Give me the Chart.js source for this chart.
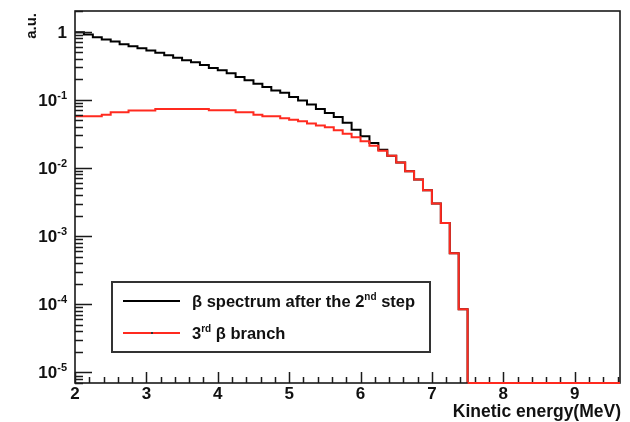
<!DOCTYPE html>
<html>
<head>
<meta charset="utf-8">
<script src="https://cdn.jsdelivr.net/npm/chart.js@4.4.1/dist/chart.umd.min.js"></script>
<style>
  html, body { margin: 0; padding: 0; background: #fff; }
  canvas { display: block; }
</style>
</head>
<body>
<canvas id="spectrum" width="630" height="422"></canvas>
<script>
// histogram binning (MeV)
const E_START = 2.0;
const BIN_WIDTH = 0.125;
const E_END = 7.5;

// beta spectrum after the 2nd step, per bin (a.u.)
const betaAfterStep2 = [
  0.976, 0.904, 0.825, 0.763, 0.713, 0.651, 0.608, 0.569, 0.526, 0.487,
  0.449, 0.411, 0.379, 0.354, 0.324, 0.293, 0.270, 0.245, 0.215, 0.193,
  0.172, 0.154, 0.137, 0.126, 0.110, 0.097, 0.0848, 0.0733, 0.0640, 0.0559,
  0.0461, 0.0364, 0.0290, 0.0232, 0.0185, 0.0151, 0.0120, 0.00889, 0.00678, 0.00471,
  0.00301, 0.00155, 0.000562, 0.0000847,
];

// 3rd beta branch, per bin (a.u.)
const thirdBranch = [
  0.0571, 0.0571, 0.0571, 0.0604, 0.0653, 0.0653, 0.0692, 0.0692, 0.0692, 0.0733,
  0.0733, 0.0733, 0.0733, 0.0733, 0.0733, 0.0699, 0.0699, 0.0699, 0.0653, 0.0653,
  0.0604, 0.0571, 0.0571, 0.0533, 0.0510, 0.0482, 0.0446, 0.0417, 0.0393, 0.0358,
  0.0318, 0.0282, 0.0245, 0.0212, 0.0179, 0.0151, 0.0120, 0.00889, 0.00678, 0.00471,
  0.00301, 0.00155, 0.000562, 0.0000847,
];

const xTickValues = [2, 3, 4, 5, 6, 7, 8, 9];
const yTickExponents = [0, -1, -2, -3, -4, -5];

const X_MIN = 2, X_MAX = 9.635;
const Y_MIN = 7e-6, Y_MAX = 2.0;

const FONT = '"Liberation Sans", Arial, Helvetica, sans-serif';

// step points: one per bin low edge, then drop to the floor at the end
function histPoints(values) {
  const pts = values.map((v, i) => ({ x: E_START + i * BIN_WIDTH, y: v }));
  pts.push({ x: E_END, y: Y_MIN });
  pts.push({ x: X_MAX, y: Y_MIN });
  return pts;
}

// text with optional superscript pieces
function drawRich(ctx, parts, x, y, size, align) {
  const supSize = Math.round(size * 0.62);
  const widths = parts.map((p) => {
    ctx.font = `700 ${p.sup ? supSize : size}px ${FONT}`;
    return ctx.measureText(p.t).width;
  });
  const total = widths.reduce((a, b) => a + b, 0);
  let cx = align === 'right' ? x - total : x;
  ctx.textAlign = 'left';
  ctx.textBaseline = 'alphabetic';
  parts.forEach((p, i) => {
    ctx.font = `700 ${p.sup ? supSize : size}px ${FONT}`;
    ctx.fillText(p.t, cx, p.sup ? y - size * 0.42 : y);
    cx += widths[i];
  });
}

const rootFrame = {
  id: 'rootFrame',
  afterDatasetsDraw(chart) {
    const { ctx, chartArea: a, scales: { x, y } } = chart;
    ctx.save();
    ctx.strokeStyle = '#1a1a1a';
    ctx.lineWidth = 1.5;

    // x ticks, pointing into the pad
    ctx.beginPath();
    for (let k = 0; k * 0.2 + X_MIN <= X_MAX; k++) {
      const v = X_MIN + k * 0.2;
      const px = Math.round(x.getPixelForValue(v)) + 0.5;
      const len = k % 5 === 0 ? 11 : 6;
      ctx.moveTo(px, a.bottom);
      ctx.lineTo(px, a.bottom - len);
    }
    // y ticks: decades long, 2..9 short
    for (let e = -6; e <= 0; e++) {
      for (let m = 1; m <= 9; m++) {
        const v = m * Math.pow(10, e);
        if (v < Y_MIN || v > Y_MAX) continue;
        const py = Math.round(y.getPixelForValue(v)) + 0.5;
        ctx.moveTo(a.left, py);
        ctx.lineTo(a.left + (m === 1 ? 17 : 8), py);
      }
    }
    ctx.stroke();

    // frame
    ctx.lineWidth = 1.6;
    ctx.strokeRect(a.left, a.top, a.right - a.left, a.bottom - a.top);

    // redraw the zero-level red line over the axis
    ctx.strokeStyle = '#ff2a1f';
    ctx.lineWidth = 2;
    ctx.beginPath();
    ctx.moveTo(x.getPixelForValue(E_END), a.bottom);
    ctx.lineTo(a.right, a.bottom);
    ctx.stroke();

    ctx.fillStyle = '#111';
    // x tick labels
    ctx.font = `700 17px ${FONT}`;
    ctx.textAlign = 'center';
    ctx.textBaseline = 'top';
    xTickValues.forEach((v) => {
      ctx.fillText(String(v), x.getPixelForValue(v), a.bottom + 3);
    });
    // x title
    ctx.font = `700 17.5px ${FONT}`;
    ctx.textAlign = 'right';
    ctx.fillText('Kinetic energy(MeV)', a.right + 1, a.bottom + 20);

    // y tick labels
    yTickExponents.forEach((e) => {
      const py = y.getPixelForValue(Math.pow(10, e)) + 6;
      if (e === 0) drawRich(ctx, [{ t: '1' }], 67, py, 17, 'right');
      else drawRich(ctx, [{ t: '10' }, { t: String(e), sup: true }], 67, py, 17, 'right');
    });

    // y title
    ctx.save();
    ctx.translate(36, 13);
    ctx.rotate(-Math.PI / 2);
    ctx.font = `700 15px ${FONT}`;
    ctx.textAlign = 'right';
    ctx.textBaseline = 'alphabetic';
    ctx.fillText('a.u.', 0, 0);
    ctx.restore();

    // legend box
    ctx.fillStyle = '#fff';
    ctx.fillRect(112, 282, 318, 70);
    ctx.strokeStyle = '#333';
    ctx.lineWidth = 2;
    ctx.strokeRect(112, 282, 318, 70);

    ctx.lineWidth = 1.8;
    ctx.strokeStyle = '#000';
    ctx.beginPath();
    ctx.moveTo(123, 301); ctx.lineTo(180, 301);
    ctx.stroke();
    ctx.strokeStyle = '#ff2a1f';
    ctx.beginPath();
    ctx.moveTo(123, 333); ctx.lineTo(180, 333);
    ctx.stroke();
    ctx.fillStyle = '#333';
    ctx.fillRect(151, 332, 2, 2);

    ctx.fillStyle = '#111';
    drawRich(ctx, [{ t: '\u03b2 spectrum after the 2' }, { t: 'nd', sup: true }, { t: ' step' }], 192, 307, 16.5, 'left');
    drawRich(ctx, [{ t: '3' }, { t: 'rd', sup: true }, { t: ' \u03b2 branch' }], 192, 339, 16.5, 'left');

    ctx.restore();
  },
};

const ctx = document.getElementById('spectrum').getContext('2d');
new Chart(ctx, {
  type: 'line',
  data: {
    datasets: [
      {
        label: '3rd \u03b2 branch',
        data: histPoints(thirdBranch),
        borderColor: '#ff2a1f',
        borderWidth: 2,
        stepped: 'before',
        pointRadius: 0,
        fill: false,
        order: 0,
      },
      {
        label: '\u03b2 spectrum after the 2nd step',
        data: histPoints(betaAfterStep2),
        borderColor: '#000',
        borderWidth: 2,
        stepped: 'before',
        pointRadius: 0,
        fill: false,
        order: 1,
      },
    ],
  },
  options: {
    responsive: false,
    devicePixelRatio: 1,
    animation: false,
    layout: { padding: { left: 75, top: 11, right: 10, bottom: 39 } },
    plugins: { legend: { display: false }, tooltip: { enabled: false } },
    scales: {
      x: { type: 'linear', min: X_MIN, max: X_MAX, display: false },
      y: { type: 'logarithmic', min: Y_MIN, max: Y_MAX, display: false },
    },
  },
  plugins: [rootFrame],
});
</script>
</body>
</html>
